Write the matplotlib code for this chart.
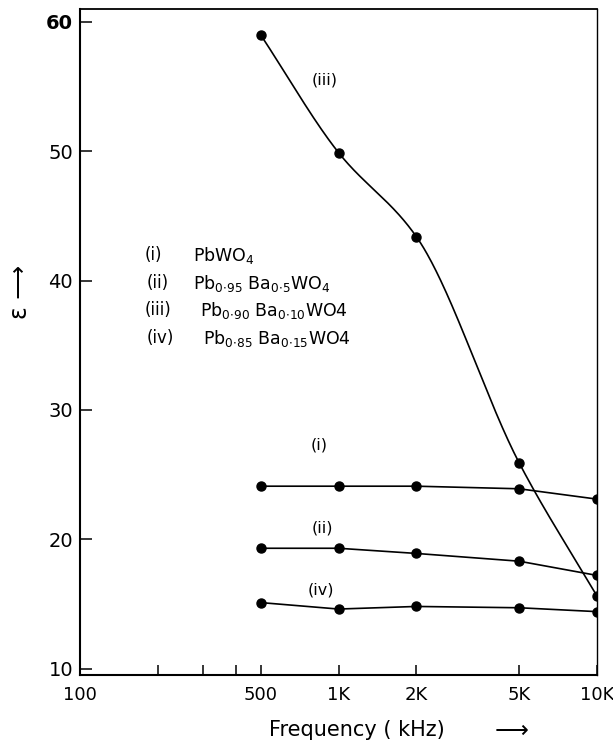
import numpy as np
import matplotlib
matplotlib.use("Agg")
import matplotlib.pyplot as plt

# ---- data ----
freq = [500, 1000, 2000, 5000, 10000]
eps_i = [24.1, 24.1, 24.1, 23.9, 23.1]
eps_ii = [19.3, 19.3, 18.9, 18.3, 17.2]
eps_iii = [59.0, 49.9, 43.4, 25.9, 15.6]
eps_iv = [15.1, 14.6, 14.8, 14.7, 14.4]

xtick_vals = [100, 500, 1000, 2000, 5000, 10000]
xtick_labels = ["100", "500", "1K", "2K", "5K", "10K"]
xminor_vals = [200, 300, 400]
ytick_vals = [10, 20, 30, 40, 50, 60]
ytick_labels = ["10", "20", "30", "40", "50", "60"]

legend_tags = ["(i)", "(ii)", "(iii)", "(iv)"]
legend_formulas = [
    r"PbWO$_4$",
    r"Pb$_{0{\cdot}95}$ Ba$_{0{\cdot}5}$WO$_4$",
    r"Pb$_{0{\cdot}90}$ Ba$_{0{\cdot}10}$WO4",
    r"Pb$_{0{\cdot}85}$ Ba$_{0{\cdot}15}$WO4",
]

plt.rcParams['font.family'] = ['DejaVu Sans']
plt.rcParams['mathtext.fontset'] = 'dejavusans'

W, H = 613, 744
fig = plt.figure(figsize=(W / 100, H / 100), dpi=100)
ax = fig.add_axes([80 / W, 1 - 675 / H, (597 - 80) / W, (675 - 9) / H])
ax.set_xscale('log')
ax.set_xlim(100, 10000)
ax.set_ylim(9.5, 61.0)


def pchip(xk, yk, xs):
    xk = np.asarray(xk, float)
    yk = np.asarray(yk, float)
    n = len(xk)
    h = np.diff(xk)
    delta = np.diff(yk) / h
    d = np.zeros(n)
    for k in range(1, n - 1):
        if delta[k - 1] * delta[k] > 0:
            w1 = 2 * h[k] + h[k - 1]
            w2 = h[k] + 2 * h[k - 1]
            d[k] = (w1 + w2) / (w1 / delta[k - 1] + w2 / delta[k])
    d[0] = delta[0]
    d[-1] = delta[-1]
    ys = np.empty_like(xs)
    for j, x in enumerate(xs):
        i = min(max(np.searchsorted(xk, x) - 1, 0), n - 2)
        t = (x - xk[i]) / h[i]
        h00 = 2 * t ** 3 - 3 * t ** 2 + 1
        h10 = t ** 3 - 2 * t ** 2 + t
        h01 = -2 * t ** 3 + 3 * t ** 2
        h11 = t ** 3 - t ** 2
        ys[j] = h00 * yk[i] + h10 * h[i] * d[i] + h01 * yk[i + 1] + h11 * h[i] * d[i + 1]
    return ys


lw = 1.2
ms = 6.5
lx = np.log10(freq)
xs = np.linspace(lx[0], lx[-1], 300)
ax.plot(10 ** xs, pchip(lx, eps_iii, xs), color='black', lw=lw)
for series in (eps_i, eps_ii, eps_iv):
    ax.plot(freq, series, color='black', lw=lw)
for series in (eps_i, eps_ii, eps_iii, eps_iv):
    ax.plot(freq, series, 'o', color='black', ms=ms, mec='black')

# curve labels
ax.text(887, 55.5, "(iii)", fontsize=11.5, ha='center', va='center')
ax.text(841, 27.3, "(i)", fontsize=11.5, ha='center', va='center')
ax.text(863, 20.9, "(ii)", fontsize=11.5, ha='center', va='center')
ax.text(852, 16.1, "(iv)", fontsize=11.5, ha='center', va='center')

# ticks
ax.set_xticks(xtick_vals)
ax.set_xticklabels(xtick_labels)
ax.set_xticks(xminor_vals, minor=True)
ax.set_xticklabels([], minor=True)
ax.set_yticks(ytick_vals)
ax.set_yticklabels(ytick_labels)
ax.tick_params(axis='x', which='both', direction='in', length=7, width=1.1,
               labelsize=13, pad=8)
ax.tick_params(axis='y', which='both', direction='in', length=8.5, width=1.1,
               labelsize=14, pad=5)
ax.tick_params(axis='y', which='minor', length=0)
for lab in ax.get_yticklabels():
    if lab.get_text() == "60":
        lab.set_fontweight('bold')
for lab in ax.get_xticklabels():
    if lab.get_text() == "10K":
        lab.set_horizontalalignment('right')
        lab.set_x(10000)
        lab.set_ha('center')

for side in ('left', 'bottom'):
    ax.spines[side].set_linewidth(1.5)
ax.spines['top'].set_linewidth(1.3)
ax.spines['right'].set_linewidth(1.0)

# axis labels
fig.text(20 / W, 1 - 292 / H, "ε \u27f6", rotation=90, fontsize=17,
         ha='center', va='center')
fig.text(357 / W, 1 - 730 / H, "Frequency ( kHz)", fontsize=15,
         ha='center', va='center')
fig.text(512 / W, 1 - 731 / H, "\u27f6", fontsize=17, ha='center', va='center')

# legend text
tag_pos = [(145, 255), (147, 283), (145, 310), (147, 338)]
form_x = [193, 193, 200, 203]
for tag, form, (tx, ty), fx in zip(legend_tags, legend_formulas, tag_pos, form_x):
    fig.text(tx / W, 1 - ty / H, tag, fontsize=12, ha='left', va='center')
    fig.text(fx / W, 1 - ty / H, form, fontsize=12.5, ha='left', va='center')

fig.savefig("out.png", dpi=100)
